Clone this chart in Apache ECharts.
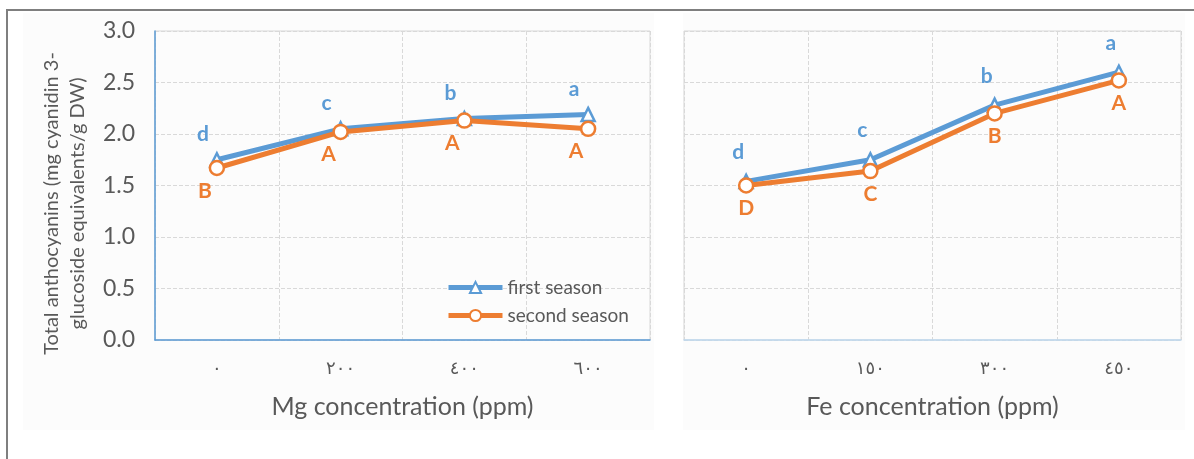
<!DOCTYPE html>
<html>
<head>
<meta charset="utf-8">
<script src="https://cdn.jsdelivr.net/npm/echarts@6/dist/echarts.min.js"></script>
<style>html,body{margin:0;padding:0;background:#fff;}#c{width:1194px;height:459px;}</style>
</head>
<body>
<div id="c"></div>
<script>
const mgCategories = ['٠', '٢٠٠', '٤٠٠', '٦٠٠'];
const feCategories = ['٠', '١٥٠', '٣٠٠', '٤٥٠'];
const mgFirst = [1.75, 2.05, 2.15, 2.19];
const mgSecond = [1.67, 2.02, 2.13, 2.05];
const feFirst = [1.54, 1.75, 2.28, 2.60];
const feSecond = [1.50, 1.64, 2.20, 2.52];
const mgFirstLetters = ['d', 'c', 'b', 'a'];
const mgSecondLetters = ['B', 'A', 'A', 'A'];
const feFirstLetters = ['d', 'c', 'b', 'a'];
const feSecondLetters = ['D', 'C', 'B', 'A'];
const yTicks = [0, 0.5, 1.0, 1.5, 2.0, 2.5, 3.0];

const BLUE = '#5b9bd5', ORANGE = '#ed7d31', TXT = '#595959', GRID = '#d9d9d9';
const FONT = 'Lato, "Open Sans", sans-serif';

function items(values, letters) {
  return values.map((v, i) => ({ value: v, letter: letters[i] }));
}
function xAxis(idx, cats, name) {
  return {
    type: 'category', gridIndex: idx, data: cats,
    axisLine: { show: true, lineStyle: { color: idx === 0 ? BLUE : '#bdd7ee', width: 1.5 } },
    axisTick: { show: false },
    axisLabel: { color: TXT, fontSize: 18, margin: 20, fontFamily: 'DejaVu Sans, sans-serif' },
    splitLine: { show: true, lineStyle: { color: GRID, type: 'dashed' } },
    name: name, nameLocation: 'middle', nameGap: 54,
    nameTextStyle: { color: TXT, fontSize: 25, fontFamily: FONT }
  };
}
function yAxis(idx) {
  return {
    type: 'value', gridIndex: idx, min: 0, max: 3, interval: 0.5,
    axisLine: { show: idx === 0, lineStyle: { color: BLUE, width: 1.5 } },
    axisTick: { show: false },
    axisLabel: { show: idx === 0, color: TXT, fontSize: 23, margin: 20, fontFamily: FONT,
      formatter: v => yTicks.includes(v) ? v.toFixed(1) : '' },
    splitLine: { show: true, lineStyle: { color: GRID, type: 'dashed' } },
    name: idx === 0 ? 'Total anthocyanins (mg cyanidin 3-\nglucoside equivalents/g DW)' : '',
    nameLocation: 'middle', nameGap: 64, nameRotate: 90,
    nameTextStyle: { color: TXT, fontSize: 20, lineHeight: 26, fontFamily: FONT, padding: [0, 36, 0, 0] }
  };
}
function series(name, idx, values, letters, color, symbol, size, pos, offset) {
  return {
    name: name, type: 'line', xAxisIndex: idx, yAxisIndex: idx,
    data: items(values, letters),
    symbol: symbol, symbolSize: size,
    lineStyle: { color: color, width: 5 },
    itemStyle: { color: '#fff', borderColor: color, borderWidth: 2.5 },
    label: { show: true, position: pos, offset: offset, color: color, fontSize: 21, fontWeight: 'bold',
      fontFamily: FONT, formatter: p => p.data.letter },
    z: symbol === 'circle' ? 3 : 2,
    animation: false
  };
}

const chart = echarts.init(document.getElementById('c'), null, { renderer: 'canvas' });
chart.setOption({
  backgroundColor: '#fff',
  animation: false,
  graphic: [
    { type: 'rect', shape: { x: 23, y: 13, width: 631, height: 417 }, style: { fill: '#fcfcfc' }, z: -10 },
    { type: 'rect', shape: { x: 683, y: 13, width: 502, height: 417 }, style: { fill: '#fcfcfc' }, z: -10 },
    { type: 'rect', shape: { x: 7, y: 10, width: 1210, height: 470 }, style: { fill: 'none', stroke: '#7f7f7f', lineWidth: 2 }, z: -5 }
  ],
  grid: [
    { left: 155, right: 544, top: 31, bottom: 119, show: true, borderColor: GRID, borderWidth: 1, backgroundColor: 'transparent' },
    { left: 684, right: 13, top: 31, bottom: 119, show: true, borderColor: GRID, borderWidth: 1, backgroundColor: 'transparent' }
  ],
  legend: {
    orient: 'vertical', left: 441, top: 273, itemWidth: 54, itemHeight: 14, itemGap: 9,
    lineStyle: { width: 5 },
    textStyle: { color: TXT, fontSize: 19, fontFamily: FONT },
    data: ['first season', 'second season']
  },
  xAxis: [xAxis(0, mgCategories, 'Mg concentration (ppm)'), xAxis(1, feCategories, 'Fe concentration (ppm)')],
  yAxis: [yAxis(0), yAxis(1)],
  series: [
    series('first season', 0, mgFirst, mgFirstLetters, BLUE, 'triangle', 13, 'top', [-14, -2]),
    series('second season', 0, mgSecond, mgSecondLetters, ORANGE, 'circle', 14, 'bottom', [-12, -1]),
    series('first season', 1, feFirst, feFirstLetters, BLUE, 'triangle', 13, 'top', [-8, -6]),
    series('second season', 1, feSecond, feSecondLetters, ORANGE, 'circle', 14, 'bottom', [0, -1])
  ]
});
</script>
</body>
</html>
